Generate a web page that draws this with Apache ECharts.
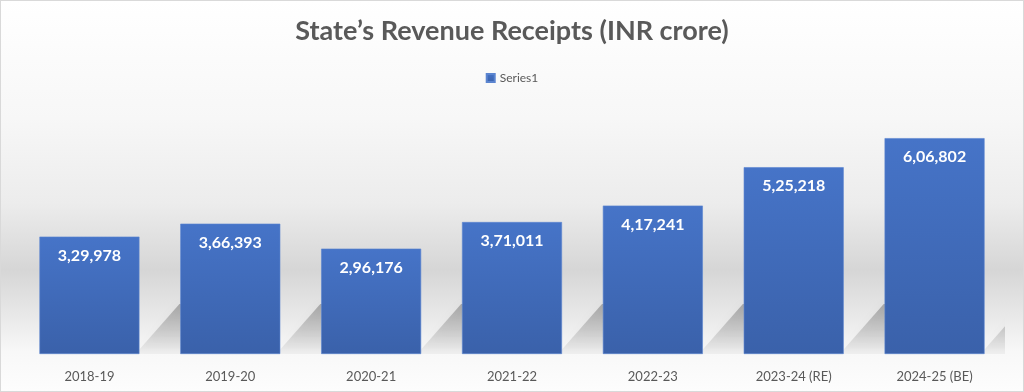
<!DOCTYPE html>
<html>
<head>
<meta charset="utf-8">
<script src="https://cdn.jsdelivr.net/npm/echarts@6/dist/echarts.min.js"></script>
<style>
html,body{margin:0;padding:0;background:#fff;}
#wrap{position:absolute;left:0;top:0;width:1022px;height:390px;border:1px solid #d9d9d9;
background:linear-gradient(to bottom,#ffffff 0%,#f7f7f7 30%,#ececec 52%,#d6d6d6 69%,#e4e4e4 78%,#eeeeee 84%,#f8f8f8 90%,#fdfdfd 100%);}
#chart{width:1022px;height:390px;}
</style>
</head>
<body>
<div id="wrap"><div id="chart"></div></div>
<script>
const titleText = "State\u2019s Revenue Receipts (INR crore)";
const seriesName = "Series1";
const categories = ["2018-19","2019-20","2020-21","2021-22","2022-23","2023-24 (RE)","2024-25 (BE)"];
const values = [329978, 366393, 296176, 371011, 417241, 525218, 606802];

function fmtIN(n){
  const s = String(Math.round(n));
  if (s.length <= 3) return s;
  const last3 = s.slice(-3);
  let rest = s.slice(0,-3);
  const parts = [];
  while (rest.length > 2){ parts.unshift(rest.slice(-2)); rest = rest.slice(0,-2); }
  if (rest.length) parts.unshift(rest);
  return parts.join(',') + ',' + last3;
}

const chart = echarts.init(document.getElementById('chart'), null, {renderer:'canvas'});
const barColor = new echarts.graphic.LinearGradient(0,0,0,1,[
  {offset:0,color:'#4674c8'},{offset:1,color:'#3a61aa'}
]);
const shadowFill = new echarts.graphic.LinearGradient(0,0,0,1,[
  {offset:0,color:'rgba(0,0,0,0.26)'},{offset:0.5,color:'rgba(0,0,0,0.15)'},{offset:1,color:'rgba(0,0,0,0.03)'}
]);
chart.setOption({
  backgroundColor:'transparent',
  animation:false,
  title:{text:titleText,left:'center',top:12,
    textStyle:{fontFamily:'Lato',fontWeight:'bold',fontSize:27,color:'#595959'}},
  legend:{data:[seriesName],top:66,left:'center',itemWidth:8,itemHeight:8,itemGap:6,
    icon:'rect',
    textStyle:{fontFamily:'Lato',fontSize:12,color:'#595959'}},
  grid:{left:18,right:18,top:104,bottom:37},
  xAxis:{type:'category',data:categories,
    axisLine:{show:false},axisTick:{show:false},
    axisLabel:{fontFamily:'Lato',fontSize:13,color:'#595959',margin:16}},
  yAxis:{type:'value',min:0,max:700000,show:false,splitLine:{show:false}},
  series:[
    {type:'custom',name:'shadow',silent:true,z:1,clip:true,legendHoverLink:false,
     data:values.map((v,i)=>[i,v]),
     renderItem:function(params,api){
       const base = api.coord([api.value(0),0]);
       const w = api.size([1,0])[0]*0.71;
       const xR = base[0]+w/2, yB = base[1];
       const dx = 40, h = 50, W = 70;
       return {type:'polygon',
         shape:{points:[[xR-4,yB],[xR+dx,yB-h],[xR+dx+W,yB-h],[xR+W,yB]]},
         style:{fill:shadowFill,shadowBlur:8,shadowColor:'rgba(0,0,0,0.12)'}};
     }},
    {type:'bar',name:seriesName,data:values,barCategoryGap:'29%',z:3,
     itemStyle:{color:barColor,borderColor:'#5b85d0',borderWidth:0.6},
     label:{show:true,position:'insideTop',distance:11,color:'#ffffff',
       fontFamily:'Lato',fontWeight:'bold',fontSize:16,
       formatter:p=>fmtIN(p.value)}}
  ]
});
</script>
</body>
</html>
